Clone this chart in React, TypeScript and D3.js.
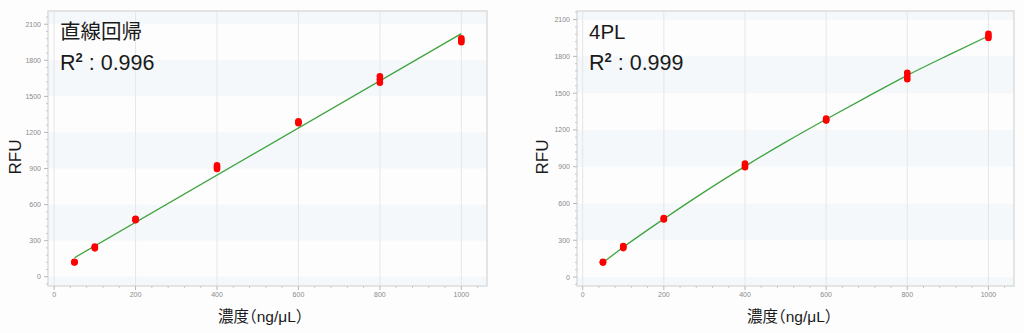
import React from "react";
import * as d3 from "d3";

// ---- data ----
const concentrations = [50, 100, 200, 400, 600, 800, 1000];
const rep1 = [118, 236, 470, 896, 1276, 1614, 1950];
const rep2 = [121, 245, 477, 911, 1284, 1640, 1966];
const rep3 = [124, 252, 482, 926, 1292, 1666, 1984];

// linear regression fit (endpoints)
const linearFitX = [50, 1000];
const linearFitY = [158, 2022];

// 4PL curve
const fourPLX = [50, 100, 200, 300, 400, 500, 600, 700, 800, 900, 1000];
const fourPLY = [118, 243, 474, 695, 903, 1100, 1287, 1468, 1645, 1808, 1966];

const xMajorTicks = [0, 200, 400, 600, 800, 1000];
const yMajorTicks = [0, 300, 600, 900, 1200, 1500, 1800, 2100];

const titles = ["直線回帰", "4PL"];
const r2Values = ["0.996", "0.999"];
const xLabel = "濃度（ng/μL）";
const yLabel = "RFU";

const FONT = "'Liberation Sans', Arial, 'Noto Sans CJK JP', sans-serif";

type PanelProps = {
  left: number;
  right: number;
  top: number;
  bottom: number;
  xDomain: [number, number];
  yDomain: [number, number];
  title: string;
  r2: string;
  fitX: number[];
  fitY: number[];
  curved: boolean;
  yLabelX: number;
};

function Panel(p: PanelProps) {
  const x = d3.scaleLinear().domain(p.xDomain).range([p.left, p.right]);
  const y = d3.scaleLinear().domain(p.yDomain).range([p.bottom, p.top]);
  const clampY = (v: number) => Math.max(p.yDomain[0], Math.min(p.yDomain[1], v));

  const bands: [number, number][] = [];
  for (let k = -300; k < p.yDomain[1]; k += 600) bands.push([clampY(k), clampY(k + 300)]);

  const xMinor = d3.range(0, p.xDomain[1], 40).filter((v) => v % 200 !== 0);
  const yMinor = d3.range(-60, p.yDomain[1], 60).filter((v) => v % 300 !== 0 && v > p.yDomain[0]);

  const line = d3
    .line<number>()
    .x((_, i) => x(p.fitX[i]))
    .y((_, i) => y(p.fitY[i]))
    .curve(p.curved ? d3.curveMonotoneX : d3.curveLinear);

  const points: { cx: number; cy: number }[] = [];
  concentrations.forEach((c, i) => {
    [rep1[i], rep2[i], rep3[i]].forEach((v) => points.push({ cx: x(c), cy: y(v) }));
  });

  const tx = p.left + 12;
  return (
    <g>
      <rect x={p.left} y={p.top} width={p.right - p.left} height={p.bottom - p.top} fill="#fdfdfd" />
      {bands.map(([a, b], i) => (
        <rect key={i} x={p.left} y={y(b)} width={p.right - p.left} height={y(a) - y(b)} fill="#f4f8fb" />
      ))}
      {xMajorTicks.map((t) => (
        <line key={t} x1={x(t)} x2={x(t)} y1={p.top} y2={p.bottom} stroke="#e6e6e6" strokeWidth={1} />
      ))}
      <rect
        x={p.left}
        y={p.top}
        width={p.right - p.left}
        height={p.bottom - p.top}
        fill="none"
        stroke="#dcdcdc"
        strokeWidth={1.5}
      />
      {/* y axis ticks */}
      {yMajorTicks.map((t) => (
        <g key={t}>
          <line x1={p.left - 4} x2={p.left} y1={y(t)} y2={y(t)} stroke="#b8b8b8" />
          <text x={p.left - 7} y={y(t) + 2.5} fontSize={7} fill="#8a8a8a" textAnchor="end" fontFamily={FONT}>
            {t}
          </text>
        </g>
      ))}
      {yMinor.map((t) => (
        <line key={t} x1={p.left - 2} x2={p.left} y1={y(t)} y2={y(t)} stroke="#c8c8c8" />
      ))}
      {/* x axis ticks */}
      {xMajorTicks.map((t) => (
        <g key={t}>
          <line x1={x(t)} x2={x(t)} y1={p.bottom} y2={p.bottom + 4} stroke="#b8b8b8" />
          <text x={x(t)} y={p.bottom + 10.5} fontSize={7} fill="#8a8a8a" textAnchor="middle" fontFamily={FONT}>
            {t}
          </text>
        </g>
      ))}
      {xMinor.map((t) => (
        <line key={t} x1={x(t)} x2={x(t)} y1={p.bottom} y2={p.bottom + 2} stroke="#c8c8c8" />
      ))}
      {/* fit line */}
      <path d={line(p.fitX) || ""} fill="none" stroke="#3fa43f" strokeWidth={1.3} />
      {/* points */}
      {points.map((pt, i) => (
        <circle key={i} cx={pt.cx} cy={pt.cy} r={3.3} fill="#ff0000" />
      ))}
      {/* texts */}
      <text x={tx} y={39} fontSize={20.5} fill="#1a1a1a" fontFamily={FONT}>
        {p.title}
      </text>
      <text x={tx} y={70} fontSize={21.5} fill="#1a1a1a" fontFamily={FONT}>
        R
        <tspan fontSize={13} fontWeight="bold" dy={-8}>
          2
        </tspan>
        <tspan dy={8}> : {p.r2}</tspan>
      </text>
      <text
        transform={`translate(${p.yLabelX},157) rotate(-90)`}
        fontSize={17}
        fill="#1a1a1a"
        textAnchor="middle"
        dominantBaseline="central"
        fontFamily={FONT}
      >
        {yLabel}
      </text>
      <text
        x={p.left + 170}
        y={322}
        fontSize={15.5}
        fill="#1a1a1a"
        textAnchor="start"
        fontFamily={FONT}
        style={{ fontFeatureSettings: '"halt"' }}
      >
        {xLabel}
      </text>
    </g>
  );
}

export default function App() {
  return (
    <svg
      width={1024}
      height={333}
      style={{ position: "absolute", left: 0, top: 0, background: "#fdfdfd" }}
    >
      <rect width={1024} height={333} fill="#fdfdfd" />
      <Panel
        left={48}
        right={487}
        top={11}
        bottom={286}
        xDomain={[-15, 1063]}
        yDomain={[-77, 2210]}
        title={titles[0]}
        r2={r2Values[0]}
        fitX={linearFitX}
        fitY={linearFitY}
        curved={false}
        yLabelX={15}
      />
      <Panel
        left={577}
        right={1014}
        top={11}
        bottom={286}
        xDomain={[-14, 1063]}
        yDomain={[-73, 2170]}
        title={titles[1]}
        r2={r2Values[1]}
        fitX={fourPLX}
        fitY={fourPLY}
        curved={true}
        yLabelX={542}
      />
    </svg>
  );
}
